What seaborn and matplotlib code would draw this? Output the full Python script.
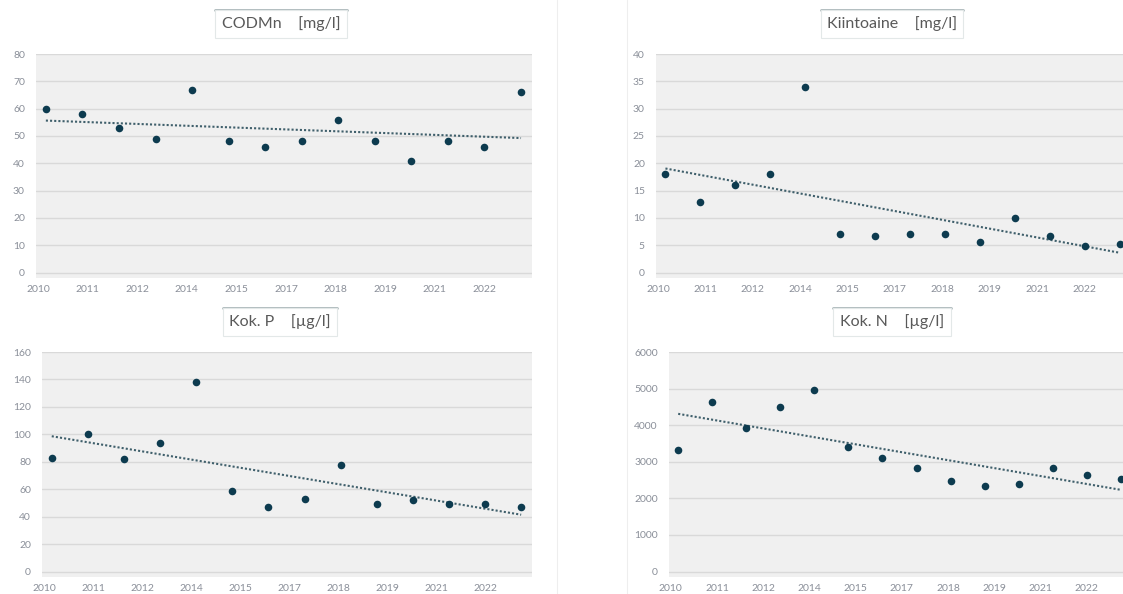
import seaborn as sns
import pandas as pd
import matplotlib.pyplot as plt

# data (14 samples per panel)
sample_no = [1, 2, 3, 4, 5, 6, 7, 8, 9, 10, 11, 12, 13, 14]
year_labels = ['2010', '2011', '2012', '2014', '2015', '2017', '2018', '2019', '2021', '2022']

codmn = [60, 58, 53, 49, 67, 48, 46, 48, 56, 48, 41, 48, 46, 66]
kiintoaine = [18, 13, 16, 18, 34, 7.0, 6.6, 7.0, 7.1, 5.5, 9.9, 6.6, 4.8, 5.2]
kok_p = [83, 100, 82, 94, 138, 59, 47, 53, 78, 49, 52, 49, 49, 47]
kok_n = [3310, 4620, 3920, 4490, 4950, 3400, 3100, 2830, 2470, 2330, 2390, 2830, 2630, 2530]

panels = [
    ('CODMn    [mg/l]', codmn, 80, 10),
    ('Kiintoaine    [mg/l]', kiintoaine, 40, 5),
    ('Kok. P    [µg/l]', kok_p, 160, 20),
    ('Kok. N    [µg/l]', kok_n, 6000, 1000),
]

sns.set_theme(style='white')
plt.rcParams['font.family'] = ['Lato', 'DejaVu Sans']

W, H = 1123, 594
fig = plt.figure(figsize=(W / 100, H / 100), dpi=100)

# axes boxes in pixels: left, top, width, height (right column runs past the edge)
boxes = [(36, 54, 496, 224), (656, 54, 474, 224), (42, 352, 490, 225), (669, 352, 462, 225)]
title_pos = [(281, 24), (892, 24), (280, 322), (892, 322)]

dot_col = '#0d3b4f'
tick_col = '#8a8f99'

titles = []
for (title, vals, ymax, step), (l, t, w, h), (tx, ty) in zip(panels, boxes, title_pos):
    ax = fig.add_axes([l / W, 1 - (t + h) / H, w / W, h / H])
    ax.set_facecolor('#f0f0f0')
    df = pd.DataFrame({'n': sample_no, 'v': vals})
    sns.regplot(data=df, x='n', y='v', ax=ax, scatter=False, ci=None, truncate=True,
                line_kws={'color': '#3f5f6b', 'linestyle': (0, (1, 1)), 'linewidth': 1.5})
    sns.scatterplot(data=df, x='n', y='v', ax=ax, color=dot_col, s=30, edgecolor=dot_col,
                    linewidth=0, zorder=3)
    ax.set_xlim(0.73, 14.3)
    ax.set_ylim(-ymax * 0.025, ymax)
    ax.set_yticks(range(0, ymax + 1, step))
    ax.yaxis.grid(True, color='#d9d9d9', linewidth=1)
    ax.set_axisbelow(True)
    x0, x1 = ax.get_xlim()
    ax.set_xticks([x0 + (0.004 + 0.1 * j) * (x1 - x0) for j in range(len(year_labels))])
    ax.set_xticklabels(year_labels)
    ax.tick_params(axis='both', length=0, labelsize=7.5, labelcolor=tick_col)
    ax.tick_params(axis='y', pad=8)
    ax.tick_params(axis='x', pad=5)
    ax.set_xlabel('')
    ax.set_ylabel('')
    for s in ax.spines.values():
        s.set_visible(False)
    txt = fig.text(tx / W, 1 - ty / H, title, ha='center', va='center', fontsize=11.5,
                   color='#595959',
                   bbox=dict(boxstyle='square,pad=0.4', fc='white', ec='#e3e8e8', lw=0.8))
    titles.append(txt)

# darker top edge on the title boxes
fig.canvas.draw()
for txt in titles:
    bb = txt.get_bbox_patch().get_window_extent()
    fig.add_artist(plt.Line2D([bb.x0 / W, bb.x1 / W], [bb.y1 / H, bb.y1 / H],
                              color='#a9b6b8', lw=2))

# faint separators between the two columns
for xp in (557, 627):
    fig.add_artist(plt.Line2D([xp / W, xp / W], [0, 1], color='#eeeeee', lw=0.8))

fig.savefig('out.png', dpi=100)
